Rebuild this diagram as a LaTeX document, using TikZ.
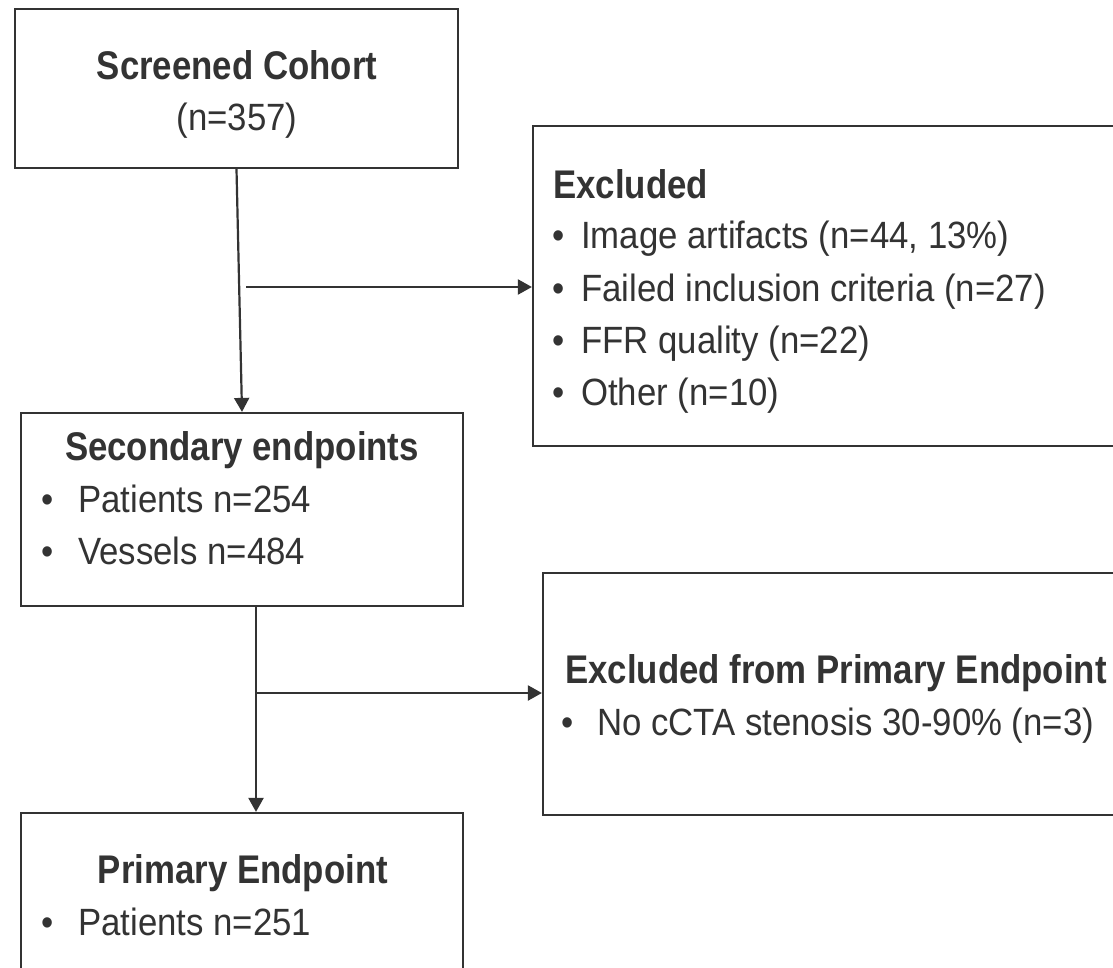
\documentclass[tikz,border=0pt]{standalone}
\usepackage{fontspec}
\setmainfont{Liberation Sans}[FakeStretch=0.915, BoldFeatures={FakeStretch=0.87}]
\usetikzlibrary{arrows.meta}
\definecolor{ink}{HTML}{333333}
\newcommand\bulA{\makebox[29pt][l]{•}}
\newcommand\bulB{\makebox[37pt][l]{•}}
\newcommand\bulC{\makebox[36pt][l]{•}}
\begin{document}
\begin{tikzpicture}[x=1pt,y=-1pt,
  box/.style={draw=ink, line width=2.2pt, inner sep=0pt, fill=white},
  conn/.style={draw=ink, line width=2.2pt},
  arr/.style={conn, -{Triangle[length=14pt,width=15pt]}},
  head/.style={font=\fontsize{40}{42}\selectfont\bfseries, text=ink, inner sep=0pt, anchor=base},
  headl/.style={head, anchor=base west},
  item/.style={font=\fontsize{38}{40}\selectfont, text=ink, inner sep=0pt, anchor=base west},
  itemc/.style={item, anchor=base}
]
\clip (0,0) rectangle (1113,968);
% boxes
\node[box, minimum width=443pt, minimum height=159pt] (scr) at (236.5,88.5) {};
\node[box, minimum width=600pt, minimum height=320pt] (exc) at (833,286) {};
\node[box, minimum width=442pt, minimum height=193pt] (sec) at (242,509.5) {};
\node[box, minimum width=600pt, minimum height=242pt] (ex2) at (843,694) {};
\node[box, minimum width=442pt, minimum height=180pt] (pri) at (242,903) {};
% texts
\node[head] (t1) at (237,80) {Screened Cohort};
\node[itemc] (t2) at (237,131) {(n=357)};
\node[headl] (t3) at (553,199) {Excluded};
\node[item] (t4) at (552,249) {\bulA Image artifacts (n=44, 13\%)};
\node[item] (t5) at (552,301) {\bulA Failed inclusion criteria (n=27)};
\node[item] (t6) at (552,353) {\bulA FFR quality (n=22)};
\node[item] (t7) at (552,405) {\bulA Other (n=10)};
\node[head] (t8) at (242,460) {Secondary endpoints};
\node[item] (t9) at (41,512) {\bulB Patients n=254};
\node[item] (t10) at (41,564) {\bulB Vessels n=484};
\node[headl] (t11) at (565,683) {Excluded from Primary Endpoint};
\node[item] (t12) at (561,735) {\bulC No cCTA stenosis 30-90\% (n=3)};
\node[head] (t13) at (243,883) {Primary Endpoint};
\node[item] (t14) at (41,935) {\bulB Patients n=251};
% connectors
\coordinate (b1) at (246,287);
\coordinate (v2) at (256,0);
\coordinate (b2) at (256,693);
\draw[arr] (scr.south) -- (sec.north);
\draw[arr] (b1) -- (b1 -| exc.west);
\draw[arr] (sec.south -| v2) -- (pri.north -| v2);
\draw[arr] (b2) -- (b2 -| ex2.west);
\end{tikzpicture}
\end{document}
